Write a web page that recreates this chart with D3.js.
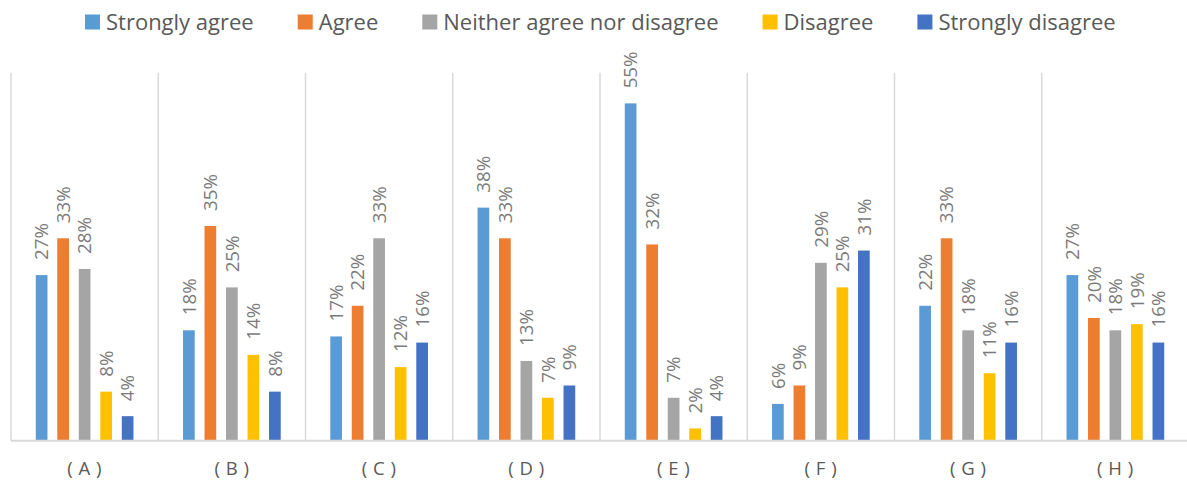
<!DOCTYPE html>
<html>
<head>
<meta charset="utf-8">
<script src="https://cdn.jsdelivr.net/npm/d3@7"></script>
<style>
  html, body { margin: 0; padding: 0; background: #ffffff; }
  svg { display: block; }
</style>
</head>
<body>
<svg id="chart" width="1187" height="482"></svg>
<script>
// Survey responses per statement (A–H), in percent
const categories = ["A", "B", "C", "D", "E", "F", "G", "H"];
const seriesNames = ["Strongly agree", "Agree", "Neither agree nor disagree", "Disagree", "Strongly disagree"];
const stronglyAgree    = [27, 18, 17, 38, 55,  6, 22, 27];
const agree            = [33, 35, 22, 33, 32,  9, 33, 20];
const neither          = [28, 25, 33, 13,  7, 29, 18, 18];
const disagree         = [ 8, 14, 12,  7,  2, 25, 11, 19];
const stronglyDisagree = [ 4,  8, 16,  9,  4, 31, 16, 16];
const seriesColors = ["#5B9BD5", "#ED7D31", "#A5A5A5", "#FFC000", "#4472C4"];

const seriesValues = [stronglyAgree, agree, neither, disagree, stronglyDisagree];
const rows = categories.map((c, i) => ({
  cat: c,
  values: seriesNames.map((s, k) => ({ series: s, k, value: seriesValues[k][i] }))
}));

const svg = d3.select("#chart");
const plot = { left: 11, right: 1189, top: 72.7, bottom: 440.7 };

const x0 = d3.scaleBand().domain(categories).range([plot.left, plot.right]).padding(0);
const groupW = 107.5;
const x1 = d3.scaleBand().domain(seriesNames)
  .range([-groupW / 2, groupW / 2]).paddingInner(0.456).paddingOuter(0.228);
const y = d3.scaleLinear().domain([0, 60]).range([plot.bottom, plot.top]);

// vertical separators between categories
svg.append("g").selectAll("line")
  .data(categories)
  .join("line")
  .attr("x1", d => x0(d)).attr("x2", d => x0(d))
  .attr("y1", plot.top).attr("y2", plot.bottom)
  .attr("stroke", "#d9d9d9").attr("stroke-width", 1.5);

// bars
const groups = svg.append("g").selectAll("g")
  .data(rows)
  .join("g")
  .attr("transform", d => `translate(${x0(d.cat) + x0.bandwidth() / 2},0)`);

groups.selectAll("rect")
  .data(d => d.values)
  .join("rect")
  .attr("x", d => x1(d.series))
  .attr("width", x1.bandwidth())
  .attr("y", d => y(d.value))
  .attr("height", d => y(0) - y(d.value))
  .attr("fill", d => seriesColors[d.k]);

// rotated value labels
groups.selectAll("text")
  .data(d => d.values)
  .join("text")
  .attr("transform", d => `translate(${x1(d.series) + x1.bandwidth() / 2},${y(d.value) - 15}) rotate(-90)`)
  .attr("dy", "0.36em")
  .attr("text-anchor", "start")
  .attr("font-family", "'Open Sans', sans-serif")
  .attr("font-size", 18.8)
  .attr("fill", "#7a7a7a")
  .text(d => d.value + "%");

// category axis
svg.append("line")
  .attr("x1", plot.left).attr("x2", plot.right)
  .attr("y1", plot.bottom).attr("y2", plot.bottom)
  .attr("stroke", "#d9d9d9").attr("stroke-width", 2);

const xAxis = d3.axisBottom(x0).tickSize(0).tickPadding(0).tickFormat(d => `( ${d} )`);
const axisG = svg.append("g")
  .attr("transform", `translate(0,${plot.bottom})`)
  .call(xAxis);
axisG.select(".domain").remove();
axisG.selectAll("text")
  .attr("y", 28)
  .attr("dy", "0.35em")
  .attr("font-family", "'Open Sans', sans-serif")
  .attr("font-size", 18.5)
  .attr("letter-spacing", 0.5)
  .attr("fill", "#595959");

// legend
const legend = svg.append("g").attr("transform", "translate(0,22)");
const legendFont = 22, sq = 15, sqGap = 6, itemGap = 44;
let lx = 85;
seriesNames.forEach((name, k) => {
  const item = legend.append("g").attr("transform", `translate(${lx},0)`);
  item.append("rect")
    .attr("x", 0).attr("y", -sq / 2)
    .attr("width", sq).attr("height", sq)
    .attr("fill", seriesColors[k]);
  const t = item.append("text")
    .attr("x", sq + sqGap)
    .attr("dy", "0.35em")
    .attr("font-family", "'Open Sans', sans-serif")
    .attr("font-size", legendFont)
    .attr("fill", "#595959")
    .text(name);
  lx += sq + sqGap + t.node().getComputedTextLength() + itemGap;
});
</script>
</body>
</html>
